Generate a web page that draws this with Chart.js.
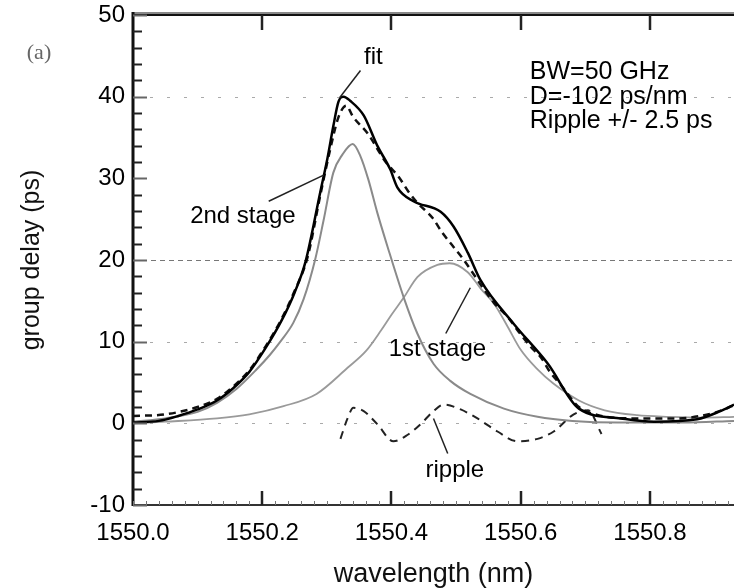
<!DOCTYPE html>
<html>
<head>
<meta charset="utf-8">
<script src="https://cdn.jsdelivr.net/npm/chart.js@4.4.0/dist/chart.umd.min.js"></script>
<style>
  html, body { margin: 0; padding: 0; background: #fff; }
  #holder { width: 734px; height: 588px; }
</style>
</head>
<body>
<div id="holder"><canvas id="chart-area" width="734" height="588"></canvas></div>
<script>
// values: wavelength (nm) and group delay (ps)
var totalWl = [1550.00, 1550.04, 1550.07, 1550.10, 1550.13, 1550.155, 1550.18, 1550.205, 1550.23, 1550.25, 1550.267, 1550.29, 1550.301, 1550.31, 1550.318, 1550.326, 1550.336, 1550.357, 1550.378, 1550.398, 1550.409, 1550.434, 1550.476, 1550.496, 1550.518, 1550.538, 1550.589, 1550.642, 1550.69, 1550.755, 1550.806, 1550.873, 1550.909, 1550.93];
var totalGd = [0.1, 0.3, 0.9, 1.7, 2.8, 4.3, 6.3, 9.2, 12.6, 16.0, 19.8, 28.4, 32.5, 36.4, 39.4, 40.0, 39.5, 37.7, 34.0, 31.1, 28.9, 27.2, 25.9, 24.1, 20.9, 17.5, 12.2, 7.3, 1.8, 0.6, 0.2, 0.5, 1.5, 2.3];

var fitWl = [1550.00, 1550.05, 1550.10, 1550.13, 1550.155, 1550.18, 1550.205, 1550.23, 1550.25, 1550.27, 1550.29, 1550.305, 1550.318, 1550.33, 1550.34, 1550.364, 1550.391, 1550.411, 1550.426, 1550.44, 1550.463, 1550.479, 1550.496, 1550.51, 1550.558, 1550.58, 1550.597, 1550.615, 1550.631, 1550.646, 1550.662, 1550.69, 1550.72, 1550.78, 1550.84, 1550.90, 1550.93];
var fitGd = [0.9, 1.1, 2.0, 3.0, 4.5, 6.5, 9.4, 12.8, 16.2, 20.3, 28.0, 33.5, 37.5, 38.9, 37.6, 35.4, 32.0, 30.2, 28.4, 27.0, 25.2, 23.3, 21.6, 20.2, 14.8, 13.0, 11.2, 9.4, 8.1, 6.2, 4.7, 2.0, 1.0, 0.6, 0.6, 1.3, 2.2];

var stage2Wl = [1550.00, 1550.05, 1550.10, 1550.13, 1550.16, 1550.19, 1550.212, 1550.228, 1550.248, 1550.264, 1550.282, 1550.295, 1550.31, 1550.324, 1550.34, 1550.352, 1550.364, 1550.378, 1550.394, 1550.419, 1550.44, 1550.465, 1550.491, 1550.522, 1550.574, 1550.626, 1550.68, 1550.75, 1550.85, 1550.93];
var stage2Gd = [0.2, 0.6, 1.4, 2.5, 4.2, 6.5, 8.4, 10.0, 12.3, 15.2, 20.1, 24.9, 30.7, 32.9, 34.2, 32.7, 29.9, 25.8, 21.6, 15.4, 11.0, 7.3, 5.2, 3.6, 1.8, 0.8, 0.3, 0.1, 0.1, 0.3];

var stage1Wl = [1550.00, 1550.05, 1550.13, 1550.18, 1550.233, 1550.284, 1550.332, 1550.361, 1550.384, 1550.40, 1550.419, 1550.44, 1550.471, 1550.49, 1550.518, 1550.538, 1550.56, 1550.58, 1550.60, 1550.626, 1550.65, 1550.69, 1550.73, 1550.78, 1550.83, 1550.88, 1550.93];
var stage1Gd = [0.0, 0.2, 0.6, 1.1, 2.1, 3.6, 6.8, 8.9, 11.4, 13.3, 15.4, 17.9, 19.4, 19.6, 18.5, 16.5, 14.5, 11.8, 9.0, 6.6, 4.9, 2.8, 1.6, 1.0, 0.8, 0.7, 0.8];

var rippleWl = [1550.321, 1550.332, 1550.341, 1550.357, 1550.378, 1550.403, 1550.425, 1550.445, 1550.465, 1550.481, 1550.507, 1550.533, 1550.564, 1550.595, 1550.626, 1550.651, 1550.682, 1550.704, 1550.725];
var rippleGd = [-1.9, 0.6, 1.9, 1.5, -0.1, -2.2, -1.4, -0.1, 1.5, 2.3, 1.7, 0.6, -1.0, -2.2, -1.9, -1.0, 1.1, 1.6, -1.3];

var xTicks = [1550.0, 1550.2, 1550.4, 1550.6, 1550.8];
var yTicks = [-10, 0, 10, 20, 30, 40, 50];
var gridAt = [0, 10, 20, 40];

var xMin = 1550.0, xMax = 1550.93;
var yMin = -10, yMax = 50;

var FONT = "'Liberation Sans', Arial, sans-serif";

function pts(xs, ys) {
    return xs.map(function(x, i) { return { x: x, y: ys[i] }; });
}

// frame, inward ticks and the dotted horizontal lines
var framePlugin = {
    id: 'frame',
    beforeDatasetsDraw: function(chart) {
        var ctx = chart.ctx, a = chart.chartArea, y = chart.scales.y;
        ctx.save();
        gridAt.forEach(function(v) {
            var py = Math.round(y.getPixelForValue(v)) + 0.5;
            if (v === 20) {
                ctx.strokeStyle = '#777';
                ctx.setLineDash([5, 4]);
            } else {
                ctx.strokeStyle = '#aaa';
                ctx.setLineDash([3, 14]);
            }
            ctx.lineWidth = 1.2;
            ctx.beginPath();
            ctx.moveTo(a.left, py);
            ctx.lineTo(a.right, py);
            ctx.stroke();
        });
        ctx.restore();
    },
    afterDraw: function(chart) {
        var ctx = chart.ctx, a = chart.chartArea, x = chart.scales.x, y = chart.scales.y;
        ctx.save();
        ctx.setLineDash([]);

        // top border
        ctx.strokeStyle = '#888';
        ctx.lineWidth = 2;
        ctx.beginPath(); ctx.moveTo(a.left, a.top - 2); ctx.lineTo(a.right, a.top - 2); ctx.stroke();
        ctx.strokeStyle = '#111';
        ctx.beginPath(); ctx.moveTo(a.left, a.top); ctx.lineTo(a.right, a.top); ctx.stroke();

        // bottom axis
        ctx.strokeStyle = '#333';
        ctx.lineWidth = 2;
        ctx.beginPath(); ctx.moveTo(a.left, a.bottom); ctx.lineTo(a.right, a.bottom); ctx.stroke();

        // left axis
        ctx.strokeStyle = '#111';
        ctx.lineWidth = 3;
        ctx.beginPath(); ctx.moveTo(a.left, a.top - 3); ctx.lineTo(a.left, a.bottom + 1); ctx.stroke();

        // y ticks, inward
        ctx.lineWidth = 2;
        for (var v = yMin; v <= yMax; v += 2) {
            var py = Math.round(y.getPixelForValue(v)) + 0.5;
            var len = (v % 10 === 0) ? 14 : 9;
            ctx.strokeStyle = (v % 10 === 0) ? '#666' : '#222';
            ctx.beginPath(); ctx.moveTo(a.left, py); ctx.lineTo(a.left + len, py); ctx.stroke();
        }

        // x minor ticks along the bottom
        ctx.lineWidth = 1;
        ctx.strokeStyle = '#777';
        for (var w = 0; w <= 93; w += 2) {
            var px = Math.round(x.getPixelForValue(xMin + w / 100)) + 0.5;
            ctx.beginPath(); ctx.moveTo(px, a.bottom); ctx.lineTo(px, a.bottom - 4); ctx.stroke();
        }

        // x major ticks, bottom and top
        ctx.lineWidth = 2.5;
        ctx.strokeStyle = '#222';
        xTicks.forEach(function(t) {
            if (t === xMin) return;
            var px = Math.round(x.getPixelForValue(t));
            ctx.beginPath(); ctx.moveTo(px, a.bottom); ctx.lineTo(px, a.bottom - 14); ctx.stroke();
            ctx.beginPath(); ctx.moveTo(px, a.top); ctx.lineTo(px, a.top + 15); ctx.stroke();
        });
        ctx.restore();
    }
};

// text labels and the little pointer lines
var notes = [
    { text: 'fit', x: 1550.372, y: 44.8, line: [1550.352, 43.2, 1550.320, 39.9] },
    { text: '2nd stage', x: 1550.170, y: 25.4, line: [1550.210, 27.2, 1550.295, 30.4] },
    { text: '1st stage', x: 1550.471, y: 9.1, line: [1550.484, 11.0, 1550.522, 16.6] },
    { text: 'ripple', x: 1550.498, y: -5.7, line: [1550.487, -3.7, 1550.465, 0.6] }
];
var infoLines = ['BW=50 GHz', 'D=-102 ps/nm', 'Ripple +/- 2.5 ps'];

var notesPlugin = {
    id: 'notes',
    afterDraw: function(chart) {
        var ctx = chart.ctx, x = chart.scales.x, y = chart.scales.y;
        ctx.save();
        ctx.fillStyle = '#000';
        ctx.strokeStyle = '#222';
        ctx.lineWidth = 1.5;
        ctx.font = '24px ' + FONT;
        ctx.textAlign = 'center';
        ctx.textBaseline = 'middle';
        notes.forEach(function(n) {
            ctx.fillText(n.text, x.getPixelForValue(n.x), y.getPixelForValue(n.y));
            ctx.beginPath();
            ctx.moveTo(x.getPixelForValue(n.line[0]), y.getPixelForValue(n.line[1]));
            ctx.lineTo(x.getPixelForValue(n.line[2]), y.getPixelForValue(n.line[3]));
            ctx.stroke();
        });

        ctx.font = '25px ' + FONT;
        ctx.textAlign = 'left';
        infoLines.forEach(function(s, i) {
            ctx.fillText(s, x.getPixelForValue(1550.614), y.getPixelForValue(43.0 - i * 3.0));
        });

        ctx.fillStyle = '#666';
        ctx.font = '22px "Liberation Serif", "DejaVu Serif", serif';
        ctx.textAlign = 'center';
        ctx.fillText('(a)', 39, 53);
        ctx.restore();
    }
};

var config = {
    type: 'line',
    data: {
        datasets: [{
            label: 'measured',
            data: pts(totalWl, totalGd),
            borderColor: '#000',
            borderWidth: 2.5
        }, {
            label: 'fit',
            data: pts(fitWl, fitGd),
            borderColor: '#111',
            borderWidth: 2.5,
            borderDash: [7, 5]
        }, {
            label: '2nd stage',
            data: pts(stage2Wl, stage2Gd),
            borderColor: '#8a8a8a',
            borderWidth: 2
        }, {
            label: '1st stage',
            data: pts(stage1Wl, stage1Gd),
            borderColor: '#9a9a9a',
            borderWidth: 1.8
        }, {
            label: 'ripple',
            data: pts(rippleWl, rippleGd),
            borderColor: '#222',
            borderWidth: 2,
            borderDash: [8, 6]
        }]
    },
    options: {
        responsive: false,
        animation: false,
        devicePixelRatio: 1,
        layout: { padding: { left: 0, right: 0, top: 15, bottom: 0 } },
        elements: {
            point: { radius: 0 },
            line: { cubicInterpolationMode: 'monotone', fill: false }
        },
        plugins: {
            legend: { display: false },
            tooltip: { enabled: false }
        },
        scales: {
            x: {
                type: 'linear',
                min: xMin,
                max: xMax,
                afterBuildTicks: function(scale) {
                    scale.ticks = xTicks.map(function(v) { return { value: v }; });
                },
                afterFit: function(scale) {
                    scale.height = 83;
                    scale.paddingLeft = 0;
                    scale.paddingRight = 0;
                },
                grid: { display: false, drawTicks: false },
                border: { display: false },
                ticks: {
                    padding: 14,
                    maxRotation: 0,
                    color: '#000',
                    font: { family: FONT, size: 24 },
                    callback: function(v) { return Number(v).toFixed(1); }
                },
                title: {
                    display: true,
                    text: 'wavelength (nm)',
                    color: '#111',
                    font: { family: FONT, size: 27, lineHeight: 1 },
                    padding: { top: 0, bottom: 0 }
                }
            },
            y: {
                min: yMin,
                max: yMax,
                afterBuildTicks: function(scale) {
                    scale.ticks = yTicks.map(function(v) { return { value: v }; });
                },
                afterFit: function(scale) {
                    scale.width = 133;
                    scale.paddingTop = 0;
                    scale.paddingBottom = 0;
                },
                grid: { display: false, drawTicks: false },
                border: { display: false },
                ticks: {
                    padding: 8,
                    color: '#000',
                    font: { family: FONT, size: 24 }
                },
                title: {
                    display: true,
                    text: 'group delay (ps)',
                    color: '#111',
                    font: { family: FONT, size: 25, lineHeight: 1 },
                    padding: { top: 20, bottom: 0 }
                }
            }
        }
    },
    plugins: [framePlugin, notesPlugin]
};

window.onload = function() {
    var ctx = document.getElementById('chart-area').getContext('2d');
    window.myChart = new Chart(ctx, config);
};
</script>
</body>
</html>
